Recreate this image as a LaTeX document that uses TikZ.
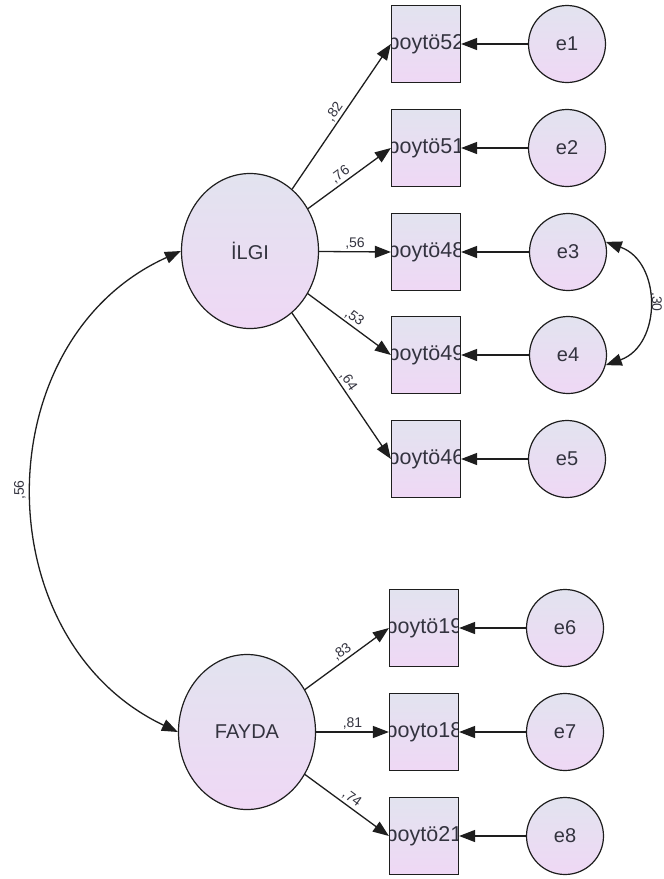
\documentclass[tikz,border=0pt]{standalone}
\usepackage{fontspec}
\setmainfont{Liberation Sans}
\usetikzlibrary{arrows.meta,shapes.geometric}
\definecolor{ink}{HTML}{1E1E1E}
\definecolor{txt}{HTML}{33333F}
\definecolor{topc}{HTML}{E2E3EF}
\definecolor{botc}{HTML}{EFD8F5}
\tikzset{
  grad/.style={top color=topc, bottom color=botc, draw=ink, line width=1.2pt},
  latent/.style={grad, ellipse, minimum width=137pt, minimum height=155pt, inner sep=0pt, font=\fontsize{20}{21}\selectfont, text=txt},
  errc/.style={grad, circle, minimum size=77pt, inner sep=0pt, font=\fontsize{20}{21}\selectfont, text=txt},
  obs/.style={grad, rectangle, minimum width=69pt, minimum height=77pt, inner sep=0pt,
    path picture={\node[font=\fontsize{21.5}{22}\selectfont, text=txt, inner sep=0pt] at (path picture bounding box.center) {#1};}},
  path/.style={draw=ink, line width=1.3pt, -{Triangle[length=16pt,width=12pt]}},
  cov/.style={draw=ink, line width=1.3pt, {Triangle[length=16pt,width=12pt]}-{Triangle[length=16pt,width=12pt]}},
  lab/.style={font=\fontsize{14}{15}\selectfont, text=txt, inner sep=2pt},
}
\begin{document}
\begin{tikzpicture}[x=1pt,y=-1pt]
\useasboundingbox (0,0) rectangle (664,879);
% latent
\node[latent] (ilgi) at (250,251) {İLGI};
\node[latent] (fayda) at (247,732) {FAYDA};
% observed
\node[obs=boytö52] (b52) at (426,44) {};
\node[obs=boytö51] (b51) at (426,148) {};
\node[obs=boytö48] (b48) at (426,252) {};
\node[obs=boytö49] (b49) at (426,355) {};
\node[obs=boytö46] (b46) at (426,459) {};
\node[obs=boytö19] (b19) at (424,628) {};
\node[obs=boyto18] (b18) at (424,732) {};
\node[obs=boytö21] (b21) at (424,836) {};
% errors
\node[errc] (e1) at (567,44) {e1};
\node[errc] (e2) at (567,148) {e2};
\node[errc] (e3) at (568,252) {e3};
\node[errc] (e4) at (568,355) {e4};
\node[errc] (e5) at (567,459) {e5};
\node[errc] (e6) at (565,628) {e6};
\node[errc] (e7) at (565,732) {e7};
\node[errc] (e8) at (565,836) {e8};
% loadings
\draw[path] (ilgi) -- node[lab, pos=0.5, sloped, above] {,82} (b52.west);
\draw[path] (ilgi) -- node[lab, pos=0.45, sloped, above] {,76} (b51.west);
\draw[path] (ilgi) -- node[lab, pos=0.5, sloped, above] {,56} (b48.west);
\draw[path] (ilgi) -- node[lab, pos=0.5, sloped, above] {,53} (b49.west);
\draw[path] (ilgi) -- node[lab, pos=0.5, sloped, above] {,64} (b46.west);
\draw[path] (fayda) -- node[lab, pos=0.5, sloped, above] {,83} (b19.west);
\draw[path] (fayda) -- node[lab, pos=0.5, sloped, above] {,81} (b18.west);
\draw[path] (fayda) -- node[lab, pos=0.5, sloped, above] {,74} (b21.west);
% errors to observed
\draw[path] (e1) -- (b52.east);
\draw[path] (e2) -- (b51.east);
\draw[path] (e3) -- (b48.east);
\draw[path] (e4) -- (b49.east);
\draw[path] (e5) -- (b46.east);
\draw[path] (e6) -- (b19.east);
\draw[path] (e7) -- (b18.east);
\draw[path] (e8) -- (b21.east);
% covariances
\draw[cov] (ilgi.west) .. controls (-16,340) and (-16,640) .. (fayda.west);
\node[lab, rotate=90] (c1) at (20,490) {,56};
\draw[cov] (e3.15) .. controls (662,262) and (662,345) .. (e4.-15);
\node[lab, rotate=-90] (c2) at (656,302) {,30};
\end{tikzpicture}
\end{document}
